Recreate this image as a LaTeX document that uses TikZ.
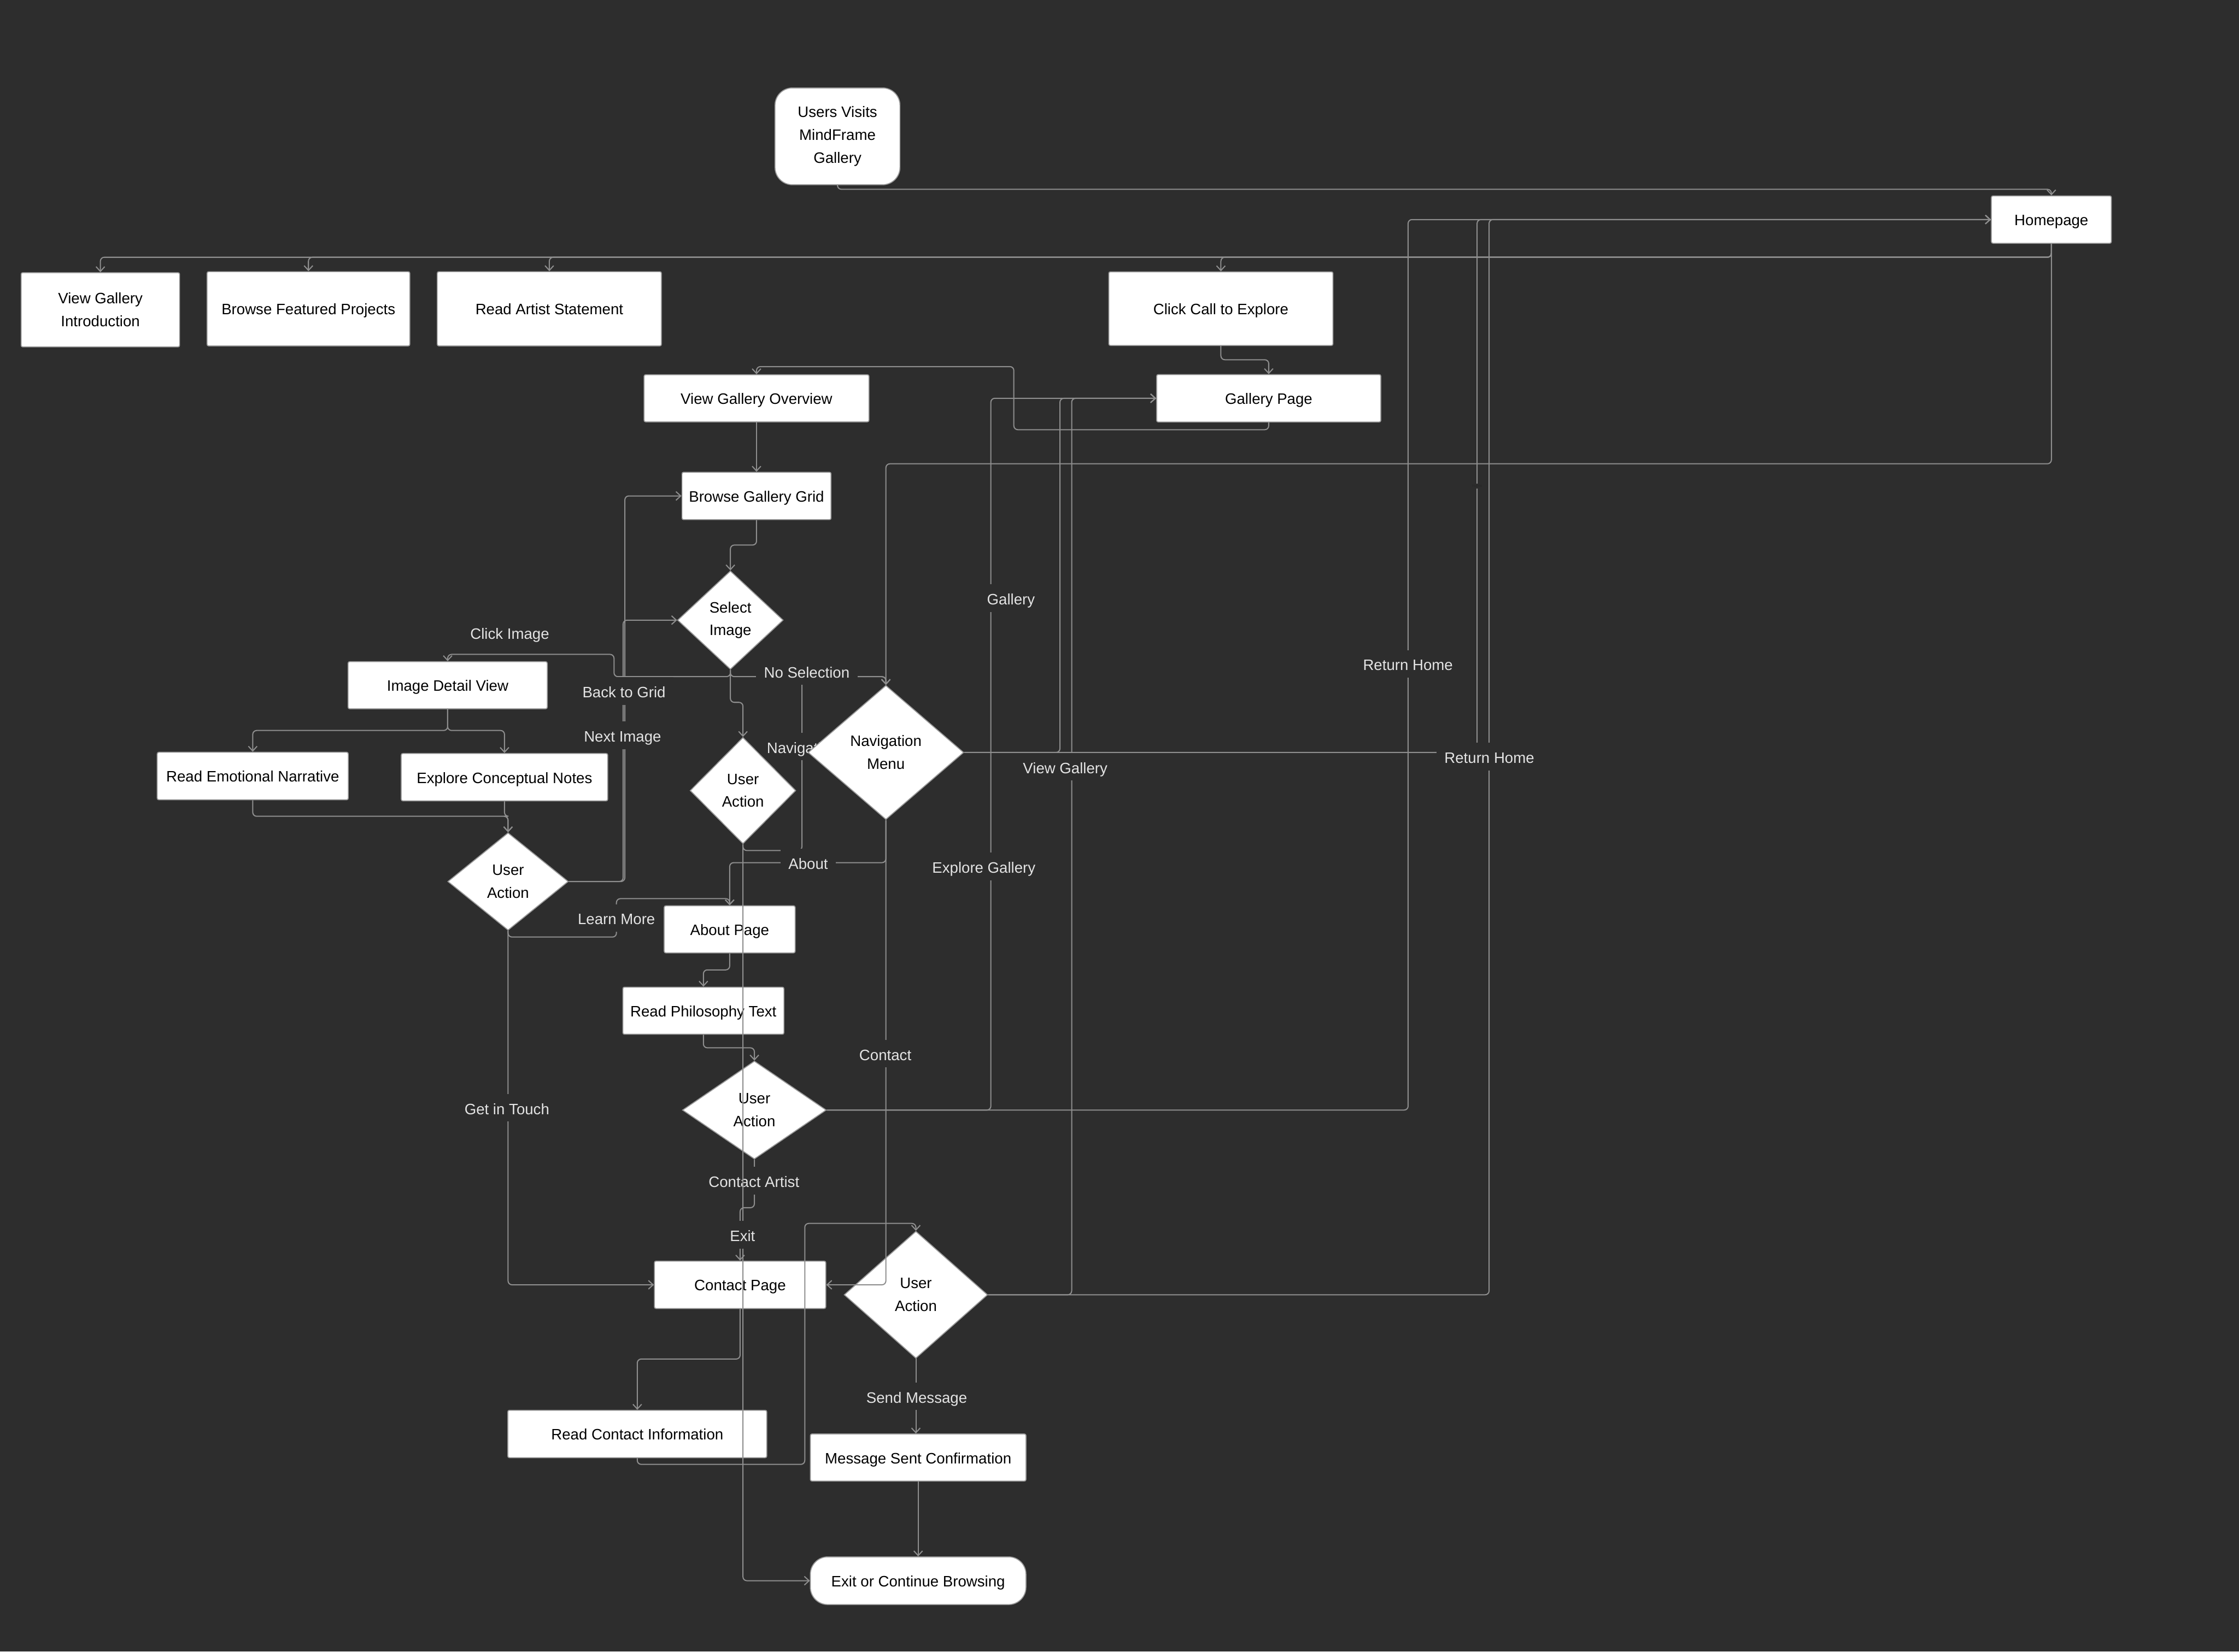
\documentclass[tikz,border=0pt]{standalone}
\usepackage{fontspec}
\setmainfont{Liberation Sans}
\usetikzlibrary{arrows.meta,shapes.geometric}
\definecolor{bgc}{HTML}{2D2D2D}
\definecolor{linec}{HTML}{8E8E8E}
\definecolor{bordc}{HTML}{9A9A9A}
\definecolor{labc}{HTML}{E4E4E4}
\newcommand{\uu}{0.03189cm}
\newcommand{\dfont}{\fontsize{9.6}{14.5}\selectfont}
\pgfdeclarelayer{bglayer}
\pgfdeclarelayer{edgelayer}
\pgfdeclarelayer{frontlayer}
\pgfsetlayers{bglayer,edgelayer,main,frontlayer}
\begin{document}
\begin{tikzpicture}[x=0.03189cm,y=-0.03189cm,
  sz/.style 2 args={minimum width=#1*\uu, minimum height=#2*\uu},
  boxbase/.style={draw=bordc, line width=0.6pt, fill=white, text=black, font=\dfont, align=center, inner sep=0pt, rounded corners=1pt},
  proc/.style={boxbase, text height=8.3pt, text depth=0.7pt},
  term/.style={proc, rounded corners=11pt},
  startbox/.style={boxbase, rounded corners=11pt},
  dec/.style={diamond, draw=bordc, line width=0.6pt, fill=white, text=black, font=\dfont, align=center, inner sep=0pt},
  conn/.style={draw=linec, line width=0.7pt, rounded corners=2.5pt, -{Straight Barb[length=3pt,width=5.5pt]}},
  lbl/.style={fill=bgc, text=labc, font=\dfont, inner xsep=5pt, inner ysep=4pt, text height=9pt, text depth=0.5pt},
  tinylbl/.style={fill=bgc, text=black!85, font=\fontsize{2.4}{3}\selectfont, inner sep=0.6pt}
]
\begin{pgfonlayer}{bglayer}
\fill[bgc] (0,0) rectangle (1568,1157);
\end{pgfonlayer}
\useasboundingbox (0,0) rectangle (1568,1157);

% ---------------- nodes (main layer) ----------------
\node[startbox, sz={87.5}{67.8}] (start) at (586.5,95.5) {Users Visits\\MindFrame\\Gallery};
\node[proc, sz={84}{33.2}] (hp) at (1436.6,153.8) {Homepage};
\node[boxbase, sz={111}{52}] (vgi) at (70.3,217) {View Gallery\\Introduction};
\node[proc, sz={142}{52}] (bfp) at (216,216.3) {Browse Featured Projects};
\node[proc, sz={157}{52}] (ras) at (384.7,216.3) {Read Artist Statement};
\node[proc, sz={157}{51.6}] (cce) at (855,216.2) {Click Call to Explore};
\node[proc, sz={157}{33.2}] (gp) at (888.5,279) {Gallery Page};
\node[proc, sz={157.5}{33}] (vgo) at (529.8,279) {View Gallery Overview};
\node[proc, sz={104.4}{33.2}] (bgg) at (529.8,347.4) {Browse Gallery Grid};
\node[dec, sz={74}{69}] (si) at (511.5,434.4) {Select\\Image};
\node[dec, sz={109}{94}] (nav) at (620.4,527.1) {Navigation\\Menu};
\node[dec, sz={74}{74.5}] (ua1) at (520.3,553.8) {User\\Action};
\node[proc, sz={139.5}{33}] (idv) at (313.5,480) {Image Detail View};
\node[proc, sz={133.8}{33.3}] (ren) at (177,543.6) {Read Emotional Narrative};
\node[proc, sz={144.6}{33.2}] (ecn) at (353.3,544.4) {Explore Conceptual Notes};
\node[dec, sz={84.4}{68.3}] (ua2) at (355.8,617.5) {User\\Action};
\node[proc, sz={91.7}{33}] (ap) at (511,651) {About Page};
\node[proc, sz={112.8}{33}] (rpt) at (492.6,708) {Read Philosophy Text};
\node[dec, sz={100.7}{68.7}] (ua3) at (528.3,777.6) {User\\Action};
\node[proc, sz={120}{33.2}] (cp) at (518.3,900) {Contact Page};
\node[dec, sz={100.5}{89}] (ua4) at (641.4,907) {User\\Action};
\node[proc, sz={181.4}{33.2}] (rci) at (446.3,1004.5) {Read Contact Information};
\node[proc, sz={151}{33}] (msc) at (643,1021) {Message Sent Confirmation};
\node[term, sz={151}{33.4}] (ext) at (643,1107.3) {Exit or Continue Browsing};

% ---------------- connectors under the nodes ----------------
\begin{pgfonlayer}{edgelayer}
\draw[conn] (start.south) -- (586.5,132.6) -| (hp.north);
\foreach \t in {vgi,bfp,ras,cce} \draw[conn] (hp.south) -- (1436.6,180.2) -| (\t.north);
\draw[conn] (cce.south) -- (855,252) -| (gp.north);
\draw[conn] (gp.south) -- (888.5,301) -| (710,256.8) -| (vgo.north);
\draw[conn] (vgo.south) -- (bgg.north);
\draw[conn] (idv.south) -- (313.5,511.7) -| (ren.north);
\draw[conn] (idv.south) -- (313.5,511.7) -| (ecn.north);
\draw[conn] (hp.south) -- (1436.6,324.9) -| (nav.north);
\draw[conn] (bgg.south) -- (529.8,381.8) -| (si.north);
\draw[conn] (si.south) -- (511.5,474) -| (430,458.4) -| (idv.north);
\draw[conn] (si.south) -- (511.5,492) -| (ua1.north);
\draw[conn] (si.south) -- (511.5,474) -| (nav.north);
\draw[conn] (ua1.south) -- (520.3,595.8) -| (561.6,474) -| (nav.north);
\draw[conn] (nav.south) -- (620.4,604.3) -| (ap.north);
\draw[conn] (nav.east) -| (742.3,279) -- (gp.west);
\draw[conn] (nav.east) -| (1034.4,153.8) -- (hp.west);
\draw[conn] (ua2.east) -| (437.6,347.4) -- (bgg.west);
\draw[conn] (ua2.east) -| (436.4,434.4) -- (si.west);
\draw[conn] (ua2.south) -- (355.8,656.4) -| (431.7,629.5) -| (ap.north);
\draw[conn] (ua2.south) |- (cp.west);
\draw[conn] (ren.south) -- (177,571.8) -| (ua2.north);
\draw[conn] (ecn.south) -- (353.3,571.8) -| (ua2.north);
\draw[conn] (ap.south) -- (511,679.4) -| (rpt.north);
\draw[conn] (rpt.south) -- (492.6,734) -| (ua3.north);
\draw[conn] (ua3.south) -- (528.3,846) -| (cp.north);
\draw[conn] (ua3.east) -| (693.9,279) -- (gp.west);
\draw[conn] (ua3.east) -| (986.1,153.8) -- (hp.west);
\draw[conn] (cp.south) -- (518.3,952) -| (rci.north);
\draw[conn] (ua4.south) -- (msc.north -| ua4.south);
\draw[conn] (ua4.east) -| (750.5,279) -- (gp.west);
\draw[conn] (ua4.east) -| (1042.8,153.8) -- (hp.west);
\draw[conn] (msc.south) -- (ext.north);
% labels of these connectors
\node[lbl] (lclick) at (357,443) {Click Image};
\node[lbl] (lnosel) at (565,470) {No Selection};
\node[lbl] (lnav) at (562,523) {Navigation};
\node[lbl] (lback) at (437,484) {Back to Grid};
\node[lbl] (lnext) at (436,515) {Next Image};
\node[lbl] (labout) at (566,604) {About};
\node[lbl] (llearn) at (431.7,643) {Learn More};
\node[lbl] (ltouch) at (355,776) {Get in Touch};
\node[lbl] (lgal) at (708,419) {Gallery};
\node[lbl] (lexpl) at (689,607) {Explore Gallery};
\node[lbl] (lview) at (746,537) {View Gallery};
\node[lbl] (lret1) at (986,465) {Return Home};
\node[lbl] (lret2) at (1043,530) {Return Home};
\node[lbl] (lcart) at (528,827) {Contact Artist};
\node[lbl] (lsend) at (642,978) {Send Message};
\node[tinylbl] (lhome) at (1034.4,340.5) {Home};
\end{pgfonlayer}

% ---------------- connectors drawn over the nodes ----------------
\begin{pgfonlayer}{frontlayer}
\draw[conn] (ua1.south) |- (ext.west);
\draw[conn] (nav.south) |- (cp.east);
\draw[conn] (rci.south) -- (446.3,1025.8) -| (563.6,857) -| (ua4.north);
\node[lbl] (lexit) at (520,865) {Exit};
\node[lbl] (lcont) at (620,738) {Contact};
\end{pgfonlayer}
\end{tikzpicture}
\end{document}
